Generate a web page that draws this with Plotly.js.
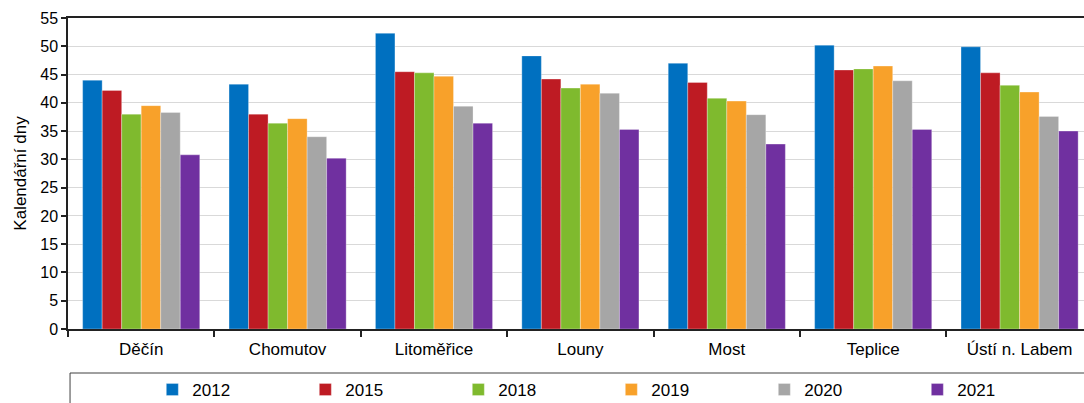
<!DOCTYPE html>
<html>
<head>
<meta charset="utf-8">
<script src="https://cdn.plot.ly/plotly-3.0.1.min.js"></script>
<style>
  html, body { margin: 0; padding: 0; background: #fff; overflow: hidden; }
  #wrap { width: 1084px; height: 403px; overflow: hidden; }
  #plotField { width: 1084px; height: 420px; }
</style>
</head>
<body>
<div id="wrap"><div id="plotField"></div></div>
<script>
// okresy a hodnoty
const okresy = ['Děčín', 'Chomutov', 'Litoměřice', 'Louny', 'Most', 'Teplice', 'Ústí n. Labem'];
const roky = ['2012', '2015', '2018', '2019', '2020', '2021'];
const hodnoty2012 = [44.0, 43.3, 52.3, 48.3, 47.0, 50.2, 49.9];
const hodnoty2015 = [42.2, 38.0, 45.5, 44.2, 43.6, 45.8, 45.3];
const hodnoty2018 = [38.0, 36.4, 45.3, 42.6, 40.8, 46.0, 43.1];
const hodnoty2019 = [39.5, 37.2, 44.7, 43.3, 40.3, 46.5, 41.9];
const hodnoty2020 = [38.3, 34.0, 39.4, 41.7, 37.9, 43.9, 37.6];
const hodnoty2021 = [30.8, 30.2, 36.4, 35.3, 32.7, 35.3, 35.0];
const barvy = ['#0070c0', '#be1b23', '#7fba2e', '#f8a12a', '#a6a6a6', '#7030a0'];

const serie = [hodnoty2012, hodnoty2015, hodnoty2018, hodnoty2019, hodnoty2020, hodnoty2021];

var data = serie.map(function(vals, i) {
    return {
        x: okresy,
        y: vals,
        name: roky[i],
        type: 'bar',
        marker: {color: barvy[i], line: {color: 'rgba(255,255,255,0.6)', width: 0.5}},
        hoverinfo: 'x+y+name'
    };
});

// graf je o kus vyšší než okno, spodek s legendou se ořízne
var layout = {
    width: 1084,
    height: 420,
    margin: {l: 68, r: 0, t: 18, b: 91},
    font: {family: 'Liberation Sans, Arial, sans-serif', size: 17, color: '#000'},
    paper_bgcolor: '#fff',
    plot_bgcolor: '#fff',
    barmode: 'group',
    bargap: 0.2,
    bargroupgap: 0,
    showlegend: true,
    xaxis: {
        type: 'category',
        range: [-0.5, 6.44],
        showline: true,
        linecolor: '#222',
        linewidth: 1.5,
        mirror: true,
        ticks: 'outside',
        tickson: 'boundaries',
        ticklen: 6,
        tickcolor: '#222',
        tickwidth: 1.5,
        showgrid: false,
        ticklabelstandoff: 4,
        tickfont: {size: 17}
    },
    yaxis: {
        range: [0, 55],
        dtick: 5,
        showline: true,
        linecolor: '#222',
        linewidth: 1.5,
        ticks: 'outside',
        ticklen: 5,
        tickcolor: '#222',
        tickwidth: 1.5,
        showgrid: true,
        gridcolor: '#d9d9d9',
        gridwidth: 1,
        zeroline: false,
        tickfont: {size: 16},
        title: {text: 'Kalendářní dny', font: {size: 17}, standoff: 9}
    },
    legend: {
        orientation: 'h',
        x: 0.083,
        xanchor: 'left',
        y: -0.254,
        yanchor: 'bottom',
        entrywidth: 108,
        itemwidth: 30,
        font: {size: 17},
        bgcolor: 'rgba(0,0,0,0)',
        borderwidth: 0
    },
    shapes: [{
        type: 'rect',
        xref: 'paper', yref: 'paper',
        x0: 0.002, x1: 1.02,
        y0: -0.32, y1: -0.1415,
        line: {color: '#404040', width: 1},
        fillcolor: 'rgba(0,0,0,0)'
    }]
};

var config = {
    responsive: false,
    displayModeBar: false
};
Plotly.newPlot('plotField', data, layout, config);
</script>
</body>
</html>
